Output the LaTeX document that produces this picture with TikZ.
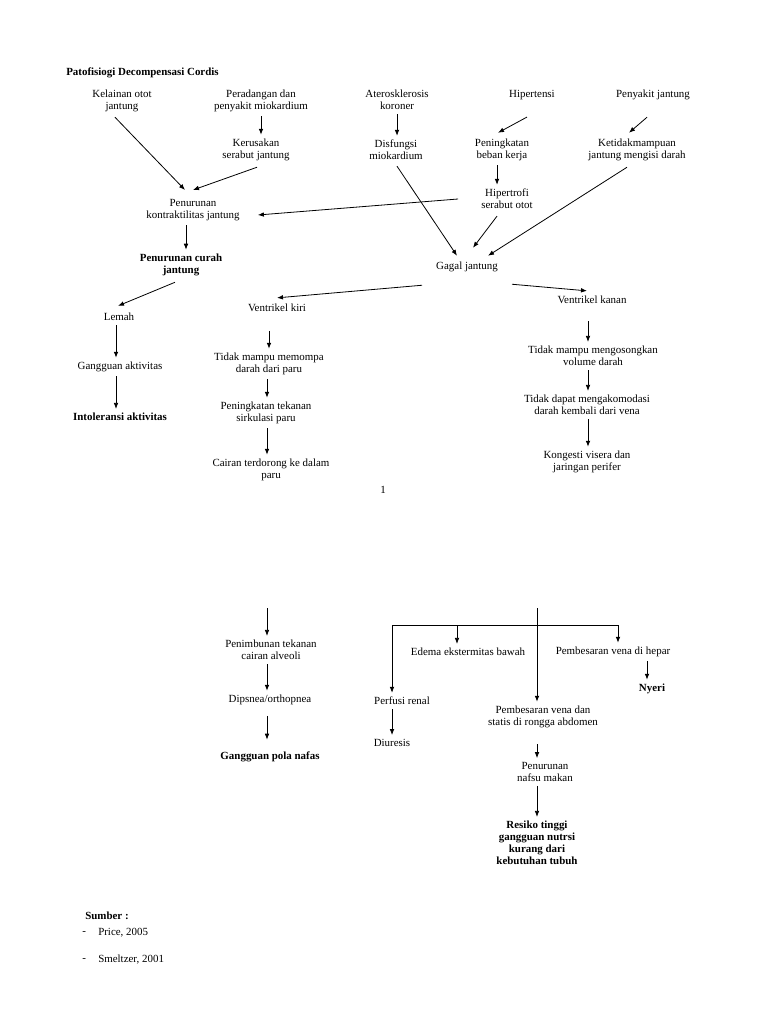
\documentclass[tikz,border=0pt]{standalone}
\usepackage{fontspec}
\setmainfont{Liberation Serif}
\usetikzlibrary{arrows.meta, calc}

\tikzset{
  lbl/.style={align=center, inner sep=3pt},
  lblb/.style={lbl, font=\fontsize{8.2}{9}\selectfont\bfseries},
  arr/.style={-{Latex[length=4.5pt, width=3.5pt]}, line width=0.6pt},
  ln/.style={line width=0.6pt},
}

\begin{document}
\begin{tikzpicture}[x=0.75pt, y=-0.75pt, font=\fontsize{8.2}{9}\selectfont]
  \fill[white] (0,0) rectangle (768,1024);
  \useasboundingbox (0,0) rectangle (768,1024);

  % Page 1
  \node[font=\fontsize{8.2}{9}\selectfont\bfseries, anchor=west, inner sep=0pt] (title) at (66,73) {Patofisiogi Decompensasi Cordis};

  \node[lbl] (kelainan) at (122,101) {Kelainan otot\\jantung};
  \node[lbl] (peradangan) at (261,101) {Peradangan dan\\penyakit miokardium};
  \node[lbl] (atero) at (397,100) {Aterosklerosis\\koroner};
  \node[lbl] (hipertensi) at (532,95) {Hipertensi};
  \node[lbl] (penyakit) at (653,95) {Penyakit jantung};

  \node[lbl] (kerusakan) at (256,150) {Kerusakan\\serabut jantung};
  \node[lbl] (disfungsi) at (396,150) {Disfungsi\\miokardium};
  \node[lbl] (peningkatan) at (502,150) {Peningkatan\\beban kerja};
  \node[lbl] (ketidak) at (637,150) {Ketidakmampuan\\jantung mengisi darah};
  \node[lbl] (hipertrofi) at (507,199) {Hipertrofi\\serabut otot};

  \node[lbl] (kontrak) at (193,210) {Penurunan\\kontraktilitas jantung};
  \node[lblb] (curah) at (181,265) {Penurunan curah\\jantung};
  \node[lbl] (gagal) at (467,267) {Gagal jantung};

  \node[lbl] (lemah) at (119,317) {Lemah};
  \node[lbl] (gangguan) at (120,367) {Gangguan aktivitas};
  \node[lblb] (intoleransi) at (120,417) {Intoleransi aktivitas};

  \node[lbl] (vkiri) at (277,308) {Ventrikel kiri};
  \node[lbl] (tdkpompa) at (269,364) {Tidak mampu memompa\\darah dari paru};
  \node[lbl] (tekanan) at (266,413) {Peningkatan tekanan\\sirkulasi paru};
  \node[lbl] (cairan) at (271,470) {Cairan terdorong ke dalam\\paru};

  \node[lbl] (vkanan) at (592,300) {Ventrikel kanan};
  \node[lbl] (kosong) at (593,356) {Tidak mampu mengosongkan\\volume darah};
  \node[lbl] (akomodasi) at (587,405) {Tidak dapat mengakomodasi\\darah kembali dari vena};
  \node[lbl] (kongesti) at (587,462) {Kongesti visera dan\\jaringan perifer};

  \node[lbl] (hal) at (383,490) {1};

  \draw[arr] ($(kelainan.south)+(-7,1)$) -- ($(kontrak.north)+(-8,-5)$);
  \draw[arr] (peradangan.south) -- (peradangan.south |- kerusakan.north);
  \draw[arr] ($(kerusakan.south)+(1,2)$) -- ($(kontrak.north)+(0,-5)$);
  \draw[arr] (atero.south) -- (atero.south |- disfungsi.north);
  \draw[arr] ($(hipertensi.south)+(-5,13)$) -- ($(peningkatan.north)+(-4,-2)$);
  \draw[arr] ($(penyakit.south)+(-6,13)$) -- ($(ketidak.north)+(-8,-2)$);
  \draw[arr] (peningkatan.south -| 497,0) -- (hipertrofi.north -| 497,0);
  \draw[arr] ($(hipertrofi.west)+(-19,0)$) -- ($(kontrak.east)+(14,5)$);
  \draw[arr] (kontrak.south -| 186,0) -- (curah.north -| 186,0);
  \draw[arr] ($(disfungsi.south)+(1,2)$) -- ($(gagal.north)+(-10,-2)$);
  \draw[arr] ($(hipertrofi.south)+(-10,3)$) -- ($(gagal.north)+(6,-10)$);
  \draw[arr] ($(ketidak.south)+(-10,2)$) -- ($(gagal.north)+(21,-2)$);
  \draw[arr] ($(gagal.south)+(-45,9)$) -- ($(vkiri.north)+(0,-2)$);
  \draw[arr] ($(gagal.south)+(45,8)$) -- ($(vkanan.north)+(-5,-1)$);
  \draw[arr] ($(curah.south)+(-6,2)$) -- ($(lemah.north)+(-1,-3)$);

  \draw[arr] (lemah.south -| 116,0) -- (gangguan.north -| 116,0);
  \draw[arr] (gangguan.south -| 116,0) -- (intoleransi.north -| 116,0);

  \draw[arr, shorten <=11pt] (vkiri.south -| tdkpompa.north) -- (tdkpompa.north);
  \draw[arr] (tdkpompa.south -| 267,0) -- (tekanan.north -| 267,0);
  \draw[arr] (tekanan.south -| 267,0) -- (cairan.north -| 267,0);

  \draw[arr, shorten <=10pt] (vkanan.south -| 588,0) -- (kosong.north -| 588,0);
  \draw[arr] (kosong.south -| 588,0) -- (akomodasi.north -| 588,0);
  \draw[arr] (akomodasi.south -| 588,0) -- (kongesti.north -| 588,0);

  % Page 2
  \coordinate (kiritop) at (267,608);
  \coordinate (kanantop) at (537,608);
  \coordinate (cabkiri) at (392,625);
  \coordinate (cabtengah) at (457,625);
  \coordinate (cabkanan) at (618,625);

  \node[lbl] (timbun) at (271,650) {Penimbunan tekanan\\cairan alveoli};
  \node[lbl] (dipsnea) at (270,700) {Dipsnea/orthopnea};
  \node[lblb] (pola) at (270,757) {Gangguan pola nafas};

  \node[lbl] (edema) at (468,652) {Edema ekstermitas bawah};
  \node[lbl] (hepar) at (613,652) {Pembesaran vena di hepar};
  \node[lblb] (nyeri) at (652,689) {Nyeri};
  \node[lbl] (perfusi) at (402,701) {Perfusi renal};
  \node[lbl] (diuresis) at (392,743) {Diuresis};
  \node[lbl] (abdomen) at (543,717) {Pembesaran vena dan\\statis di rongga abdomen};
  \node[lbl] (nafsu) at (545,772) {Penurunan\\nafsu makan};
  \node[lblb] (resiko) at (537,843) {Resiko tinggi\\gangguan nutrsi\\kurang dari\\kebutuhan tubuh};

  \draw[arr] (kiritop) -- (kiritop |- timbun.north);
  \draw[arr] (timbun.south -| kiritop) -- (dipsnea.north -| kiritop);
  \draw[arr, shorten <=5pt, shorten >=6pt] (dipsnea.south -| kiritop) -- (pola.north -| kiritop);

  \draw[ln] (cabkiri) -- (cabkanan);
  \draw[arr] (kanantop) -- (kanantop |- abdomen.north);
  \draw[arr] (cabkiri) -- (cabkiri |- perfusi.north);
  \draw[arr] (cabtengah) -- (cabtengah |- edema.north);
  \draw[arr] (cabkanan) -- (cabkanan |- hepar.north);
  \draw[arr] (hepar.south -| 647,0) -- (nyeri.north -| 647,0);
  \draw[arr] (perfusi.south -| cabkiri) -- (diuresis.north -| cabkiri);
  \draw[arr, shorten <=9pt] (abdomen.south -| kanantop) -- (nafsu.north -| kanantop);
  \draw[arr] (nafsu.south -| kanantop) -- (resiko.north -| kanantop);

  % Sumber
  \node[font=\fontsize{8.2}{9}\selectfont\bfseries, anchor=west, inner sep=0pt] (sumber) at (85,916) {Sumber :};
  \node[anchor=west, inner sep=0pt] (strip1) at (82,933) {-};
  \node[anchor=west, inner sep=0pt] (price) at (98,933) {Price, 2005};
  \node[anchor=west, inner sep=0pt] (strip2) at (82,960) {-};
  \node[anchor=west, inner sep=0pt] (smeltzer) at (98,960) {Smeltzer, 2001};
\end{tikzpicture}
\end{document}
